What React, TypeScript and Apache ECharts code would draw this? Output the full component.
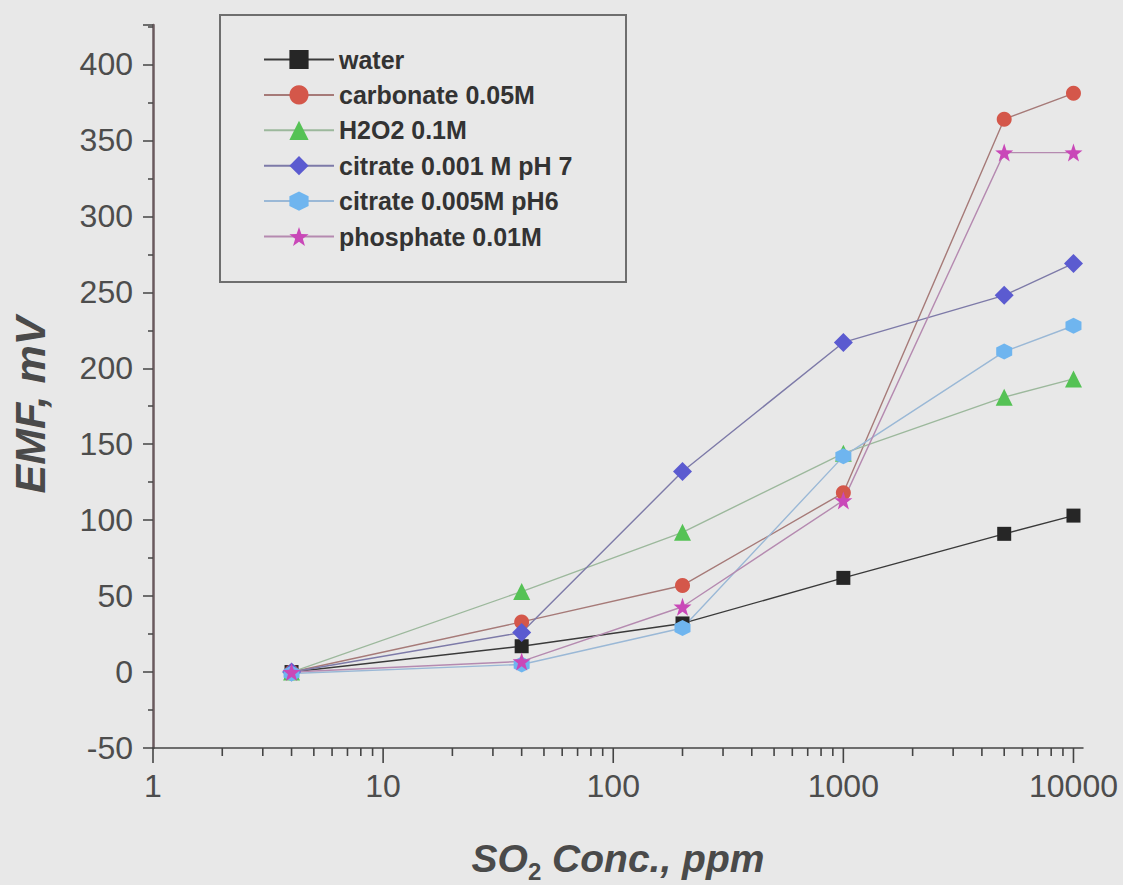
import React, { useEffect, useRef } from "react";
import * as echarts from "echarts";

const concentrations = [4, 40, 200, 1000, 5000, 10000];
const water = [0, 17, 32, 62, 91, 103];
const carbonate = [0, 33, 57, 118, 364, 381];
const h2o2 = [0, 53, 92, 144, 181, 193];
const citrate7 = [0, 26, 132, 217, 248, 269];
const citrate6 = [-1, 5, 29, 142, 211, 228];
const phosphate = [0, 7, 43, 113, 342, 342];

const xMajorTicks = [1, 10, 100, 1000, 10000];
const xMinorTicks = [
  2, 3, 4, 5, 6, 7, 8, 9,
  20, 30, 40, 50, 60, 70, 80, 90,
  200, 300, 400, 500, 600, 700, 800, 900,
  2000, 3000, 4000, 5000, 6000, 7000, 8000, 9000,
];

const hexPath = "path://M0,-1 L0.866,-0.5 L0.866,0.5 L0,1 L-0.866,0.5 L-0.866,-0.5 Z";
const starPath =
  "path://M0,-1 L0.235,-0.324 L0.951,-0.309 L0.380,0.124 L0.588,0.809 L0,0.4 L-0.588,0.809 L-0.380,0.124 L-0.951,-0.309 L-0.235,-0.324 Z";

const seriesDefs = [
  { name: "water", data: water, symbol: "rect", size: 14, color: "#262626", line: "#3a3a3a" },
  { name: "carbonate 0.05M", data: carbonate, symbol: "circle", size: 15, color: "#d4574a", line: "#a67a78" },
  { name: "H2O2 0.1M", data: h2o2, symbol: "triangle", size: 17, color: "#55c255", line: "#9cb89c" },
  { name: "citrate 0.001 M pH 7", data: citrate7, symbol: "diamond", size: 19, color: "#5b5bd0", line: "#7d7aa8" },
  { name: "citrate 0.005M pH6", data: citrate6, symbol: hexPath, size: 16, color: "#6fb5ef", line: "#9ab8d6" },
  { name: "phosphate 0.01M", data: phosphate, symbol: starPath, size: 18, color: "#c948b8", line: "#b58ab0" },
];

function tickSeries(values: number[], len: number) {
  return {
    type: "custom",
    silent: true,
    clip: false,
    data: values.map((v) => [v, -50]),
    renderItem: (params: any, api: any) => {
      const p = api.coord([api.value(0), -50]);
      return {
        type: "line",
        shape: { x1: p[0], y1: p[1], x2: p[0], y2: p[1] + len },
        style: { stroke: "#444", lineWidth: 1.6 },
      };
    },
  };
}

export default function App() {
  const ref = useRef<HTMLDivElement>(null);
  useEffect(() => {
    if (!ref.current) return;
    const chart = echarts.init(ref.current, null, { renderer: "svg" });
    const series: any[] = seriesDefs.map((s) => ({
      name: s.name,
      type: "line",
      data: concentrations.map((c, i) => [c, s.data[i]]),
      symbol: s.symbol,
      symbolSize: s.size,
      itemStyle: { color: s.color },
      lineStyle: { color: s.line, width: 1.4 },
      showAllSymbol: true,
    }));
    series.push(tickSeries(xMajorTicks, 15));
    series.push(tickSeries(xMinorTicks, 8));
    chart.setOption({
      animation: false,
      backgroundColor: "#e8e8e8",
      grid: { left: 153, right: 40, top: 25, bottom: 137, containLabel: false },
      xAxis: {
        type: "log",
        logBase: 10,
        min: 1,
        max: 11000,
        axisLine: { onZero: false, lineStyle: { color: "#444", width: 1.5 } },
        axisTick: { show: false },
        axisLabel: {
          customValues: xMajorTicks,
          formatter: (v: number) => String(v),
          fontSize: 32,
          fontFamily: "Liberation Sans",
          color: "#4d4d4d",
          margin: 22,
        },
        splitLine: { show: false },
        minorTick: { show: false },
      },
      yAxis: {
        type: "value",
        min: -50,
        max: 426,
        interval: 50,
        axisLine: { show: true, onZero: false, lineStyle: { color: "#6a5a5e", width: 2.5 } },
        axisTick: { show: true, length: 10, lineStyle: { color: "#444", width: 1.5 } },
        minorTick: { show: true, splitNumber: 2, length: 5, lineStyle: { color: "#444", width: 1.5 } },
        axisLabel: {
          showMaxLabel: false,
          fontSize: 32,
          fontFamily: "Liberation Sans",
          color: "#4d4d4d",
          margin: 20,
        },
        splitLine: { show: false },
      },
      legend: {
        data: seriesDefs.map((s) => s.name),
        orient: "vertical",
        left: 258,
        top: 42,
        itemWidth: 70,
        itemHeight: 24,
        itemGap: 10.4,
        textStyle: {
          fontSize: 25,
          fontWeight: "bold",
          fontFamily: "Liberation Sans",
          color: "#333",
          lineHeight: 25,
        },
      },
      graphic: [
        {
          type: "rect",
          shape: { x: 220, y: 15, width: 406, height: 267 },
          style: { fill: "none", stroke: "#6e6e6e", lineWidth: 2 },
          z: 10,
        },
        {
          type: "text",
          x: 30,
          y: 405,
          rotation: Math.PI / 2,
          style: {
            text: "EMF, mV",
            font: "italic bold 43px 'Liberation Sans'",
            fill: "#4a4a4a",
            align: "center",
            verticalAlign: "middle",
          },
        },
        {
          type: "text",
          x: 618,
          y: 858,
          style: {
            text: "{a|SO}{s|2}{a| Conc., ppm}",
            align: "center",
            verticalAlign: "middle",
            fill: "#4a4a4a",
            rich: {
              a: { font: "italic bold 39px 'Liberation Sans'", fill: "#4a4a4a", lineHeight: 50, verticalAlign: "middle" },
              s: { font: "bold 24px 'Liberation Sans'", fill: "#4a4a4a", lineHeight: 24, verticalAlign: "bottom" },
            },
          },
        },
      ],
      series,
    });
    return () => chart.dispose();
  }, []);
  return (
    <div
      ref={ref}
      style={{ position: "fixed", left: 0, top: 0, width: 1123, height: 885, background: "#e8e8e8" }}
    />
  );
}
